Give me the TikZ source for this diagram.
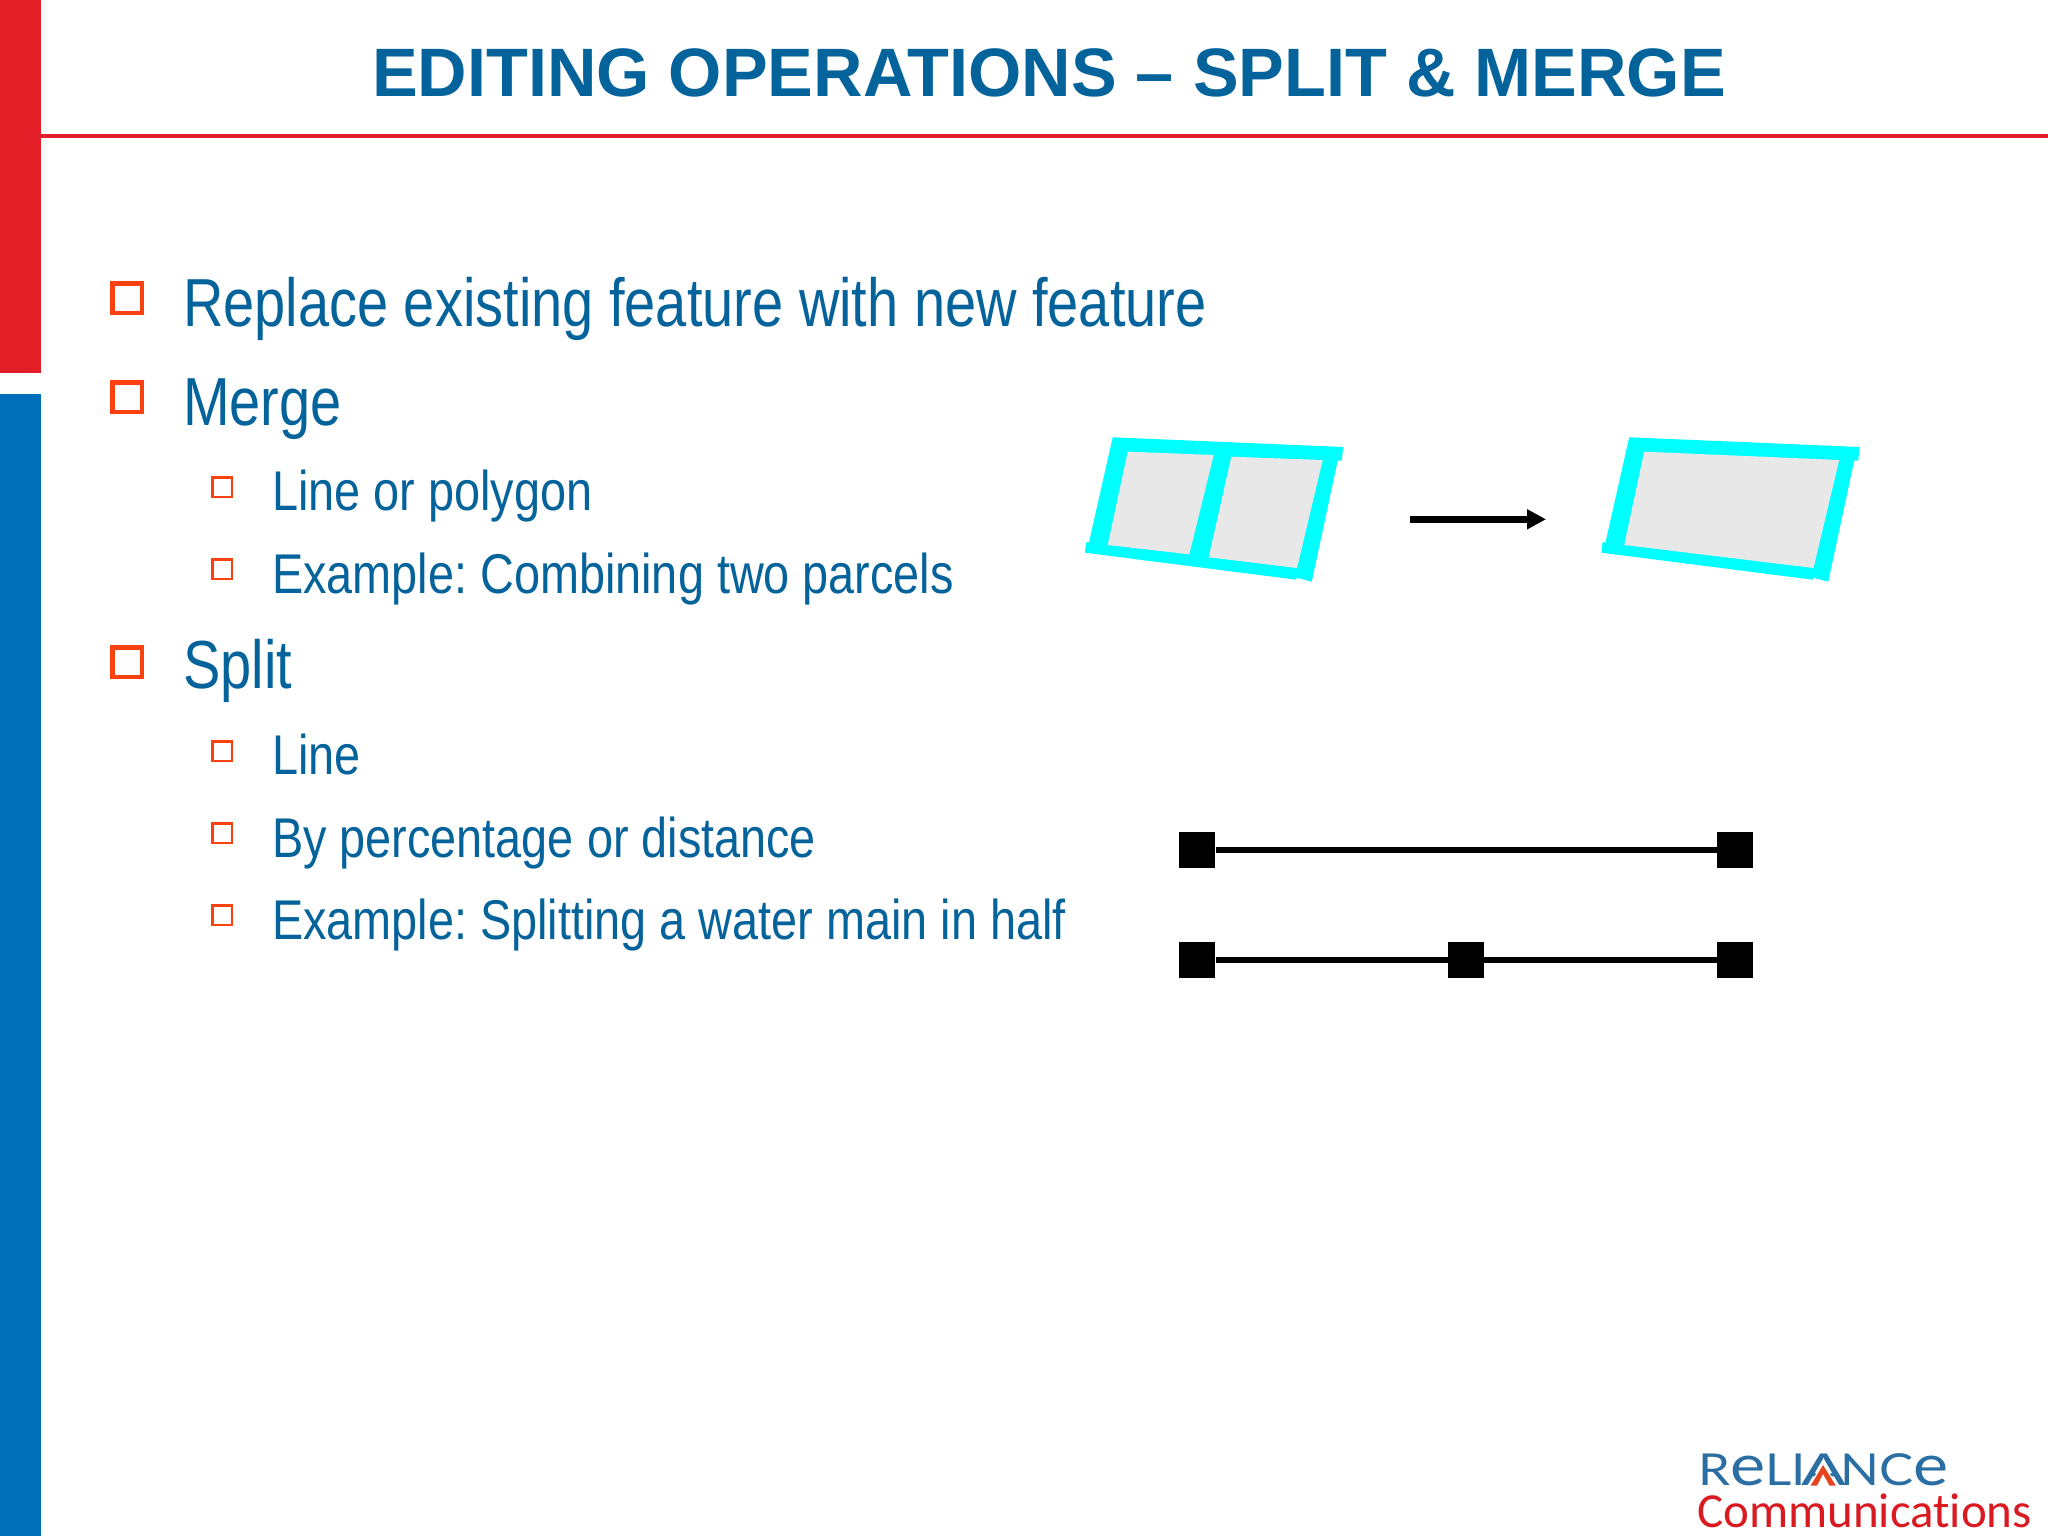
\documentclass[tikz,border=0pt]{standalone}
\usepackage{fontspec}
\usepackage{graphicx}
\usetikzlibrary{arrows.meta}
\setmainfont{Liberation Sans}
\newfontfamily\narrowfont[FakeStretch=0.823]{Liberation Sans}
\newfontfamily\subfont[FakeStretch=0.836]{Liberation Sans}
\newfontfamily\logofont[Ligatures=NoCommon]{Carlito}
\newfontfamily\logowide[FakeStretch=1.16]{Lato}
\definecolor{barred}{HTML}{E31E26}
\definecolor{barblue}{HTML}{0070BA}
\definecolor{ink}{HTML}{05639C}
\definecolor{bullet}{HTML}{FB4110}
\definecolor{parcel}{HTML}{E8E8E8}
\definecolor{edge}{HTML}{00FFFF}
\definecolor{logoblue}{HTML}{2B6EA3}
\definecolor{logored}{HTML}{D91A21}
\definecolor{chevron}{HTML}{E8431F}
\tikzset{
  bigtext/.style={anchor=base west,inner sep=0pt,text=ink,font=\narrowfont\frenchspacing\fontsize{68}{80}\selectfont},
  subtext/.style={anchor=base west,inner sep=0pt,text=ink,font=\subfont\frenchspacing\fontsize{56}{66}\selectfont},
  bigbullet/.style={draw=bullet,line width=4.5pt,minimum size=29.5pt,inner sep=0pt},
  subbullet/.style={draw=bullet,line width=2.5pt,minimum size=19.5pt,inner sep=0pt},
  vertexbox/.style={fill=black,minimum size=36pt,inner sep=0pt},
  seg/.style={line width=6.7pt,black}
}
\begin{document}
\begin{tikzpicture}[x=1pt,y=-1pt]
\useasboundingbox (0,0) rectangle (2048,1536);
\fill[white] (0,0) rectangle (2048,1536);
% side bars and rule
\fill[barred] (0,0) rectangle (41,373);
\fill[barblue] (0,394) rectangle (41,1536);
\draw[barred,line width=3.4pt] (41,136) -- (2048,136);
% title
\node[anchor=base,inner sep=0pt,text=ink,font=\bfseries\fontsize{68.5}{80}\selectfont] (title) at (1049,97) {EDITING OPERATIONS – SPLIT \& MERGE};
% bullets
\node[bigbullet] (b1) at (127,298) {};
\node[bigbullet] (b2) at (127,397) {};
\node[bigbullet] (b3) at (127,662) {};
\node[subbullet] (s1) at (222,487) {};
\node[subbullet] (s2) at (222,569) {};
\node[subbullet] (s3) at (222,751) {};
\node[subbullet] (s4) at (222,833) {};
\node[subbullet] (s5) at (222,915) {};
% text
\node[bigtext] (t1) at (183,326) {Replace existing feature with new feature};
\node[bigtext] (t2) at (183,425) {Merge};
\node[subtext] (t3) at (272,510) {Line or polygon};
\node[subtext] (t4) at (272,593) {Example: Combining two parcels};
\node[bigtext] (t5) at (183,688) {Split};
\node[subtext] (t6) at (272,774) {Line};
\node[subtext] (t7) at (272,857) {By percentage or distance};
\node[subtext] (t8) at (272,939) {Example: Splitting a water main in half};
% merged parcels: before
\fill[edge] (1112.7,437.3) -- (1343.3,447) -- (1341.7,460.7) -- (1337.7,460.7) -- (1311.7,581.7) -- (1296.7,577.7) -- (1296.3,579.7) -- (1085,552.7) -- (1086,542.3) -- (1089,542.3) -- cycle;
\fill[parcel] (1127.7,451.7) -- (1213.7,455) -- (1189.3,554.3) -- (1107.7,545) -- cycle;
\fill[parcel] (1231.3,456.7) -- (1322.7,460) -- (1297,568) -- (1208.7,557.3) -- cycle;
% merged parcels: after
\begin{scope}[xshift=516.5pt]
\fill[edge] (1112.7,437.3) -- (1343.3,447) -- (1341.7,460.7) -- (1337.7,460.7) -- (1311.7,581.7) -- (1296.7,577.7) -- (1296.3,579.7) -- (1085,552.7) -- (1086,542.3) -- (1089,542.3) -- cycle;
\fill[parcel] (1127.7,451.7) -- (1322.7,460) -- (1297,568) -- (1107.7,545) -- cycle;
\end{scope}
% merge arrow
\coordinate (ma) at (1410,519.3);
\coordinate (mb) at (1546,519.3);
\draw[line width=7.3pt,-{Triangle[length=19pt,width=19pt]}] (ma) -- (mb);
% split lines
\node[vertexbox] (v1) at (1197.4,850) {};
\node[vertexbox] (v2) at (1735,850) {};
\draw[seg] (v1) -- (v2);
\node[vertexbox] (v3) at (1197.4,960) {};
\node[vertexbox] (v4) at (1466,960) {};
\node[vertexbox] (v5) at (1735,960) {};
\draw[seg] (v3) -- (v4);
\draw[seg] (v4) -- (v5);
% logo
\node[anchor=base west,inner sep=0pt,text=logoblue,font=\logowide\fontsize{44}{50}\selectfont] (lg1) at (1698,1485) {R\scalebox{1.3}{e}LI\kern-4pt\scalebox{1.3}[1]{A}\kern-6pt NC\scalebox{1.3}{e}};
\fill[white] (1823,1462) -- (1809,1486) -- (1837,1486) -- cycle;
\fill[chevron] (1823,1465) -- (1810.7,1485.5) -- (1817,1485.5) -- (1823,1474) -- (1829.5,1485.5) -- (1835.7,1485.5) -- cycle;
\node[anchor=base west,inner sep=0pt,text=logored,font=\logofont\fontsize{49}{54}\selectfont] (lg2) at (1697,1527) {Communications};
\end{tikzpicture}
\end{document}
